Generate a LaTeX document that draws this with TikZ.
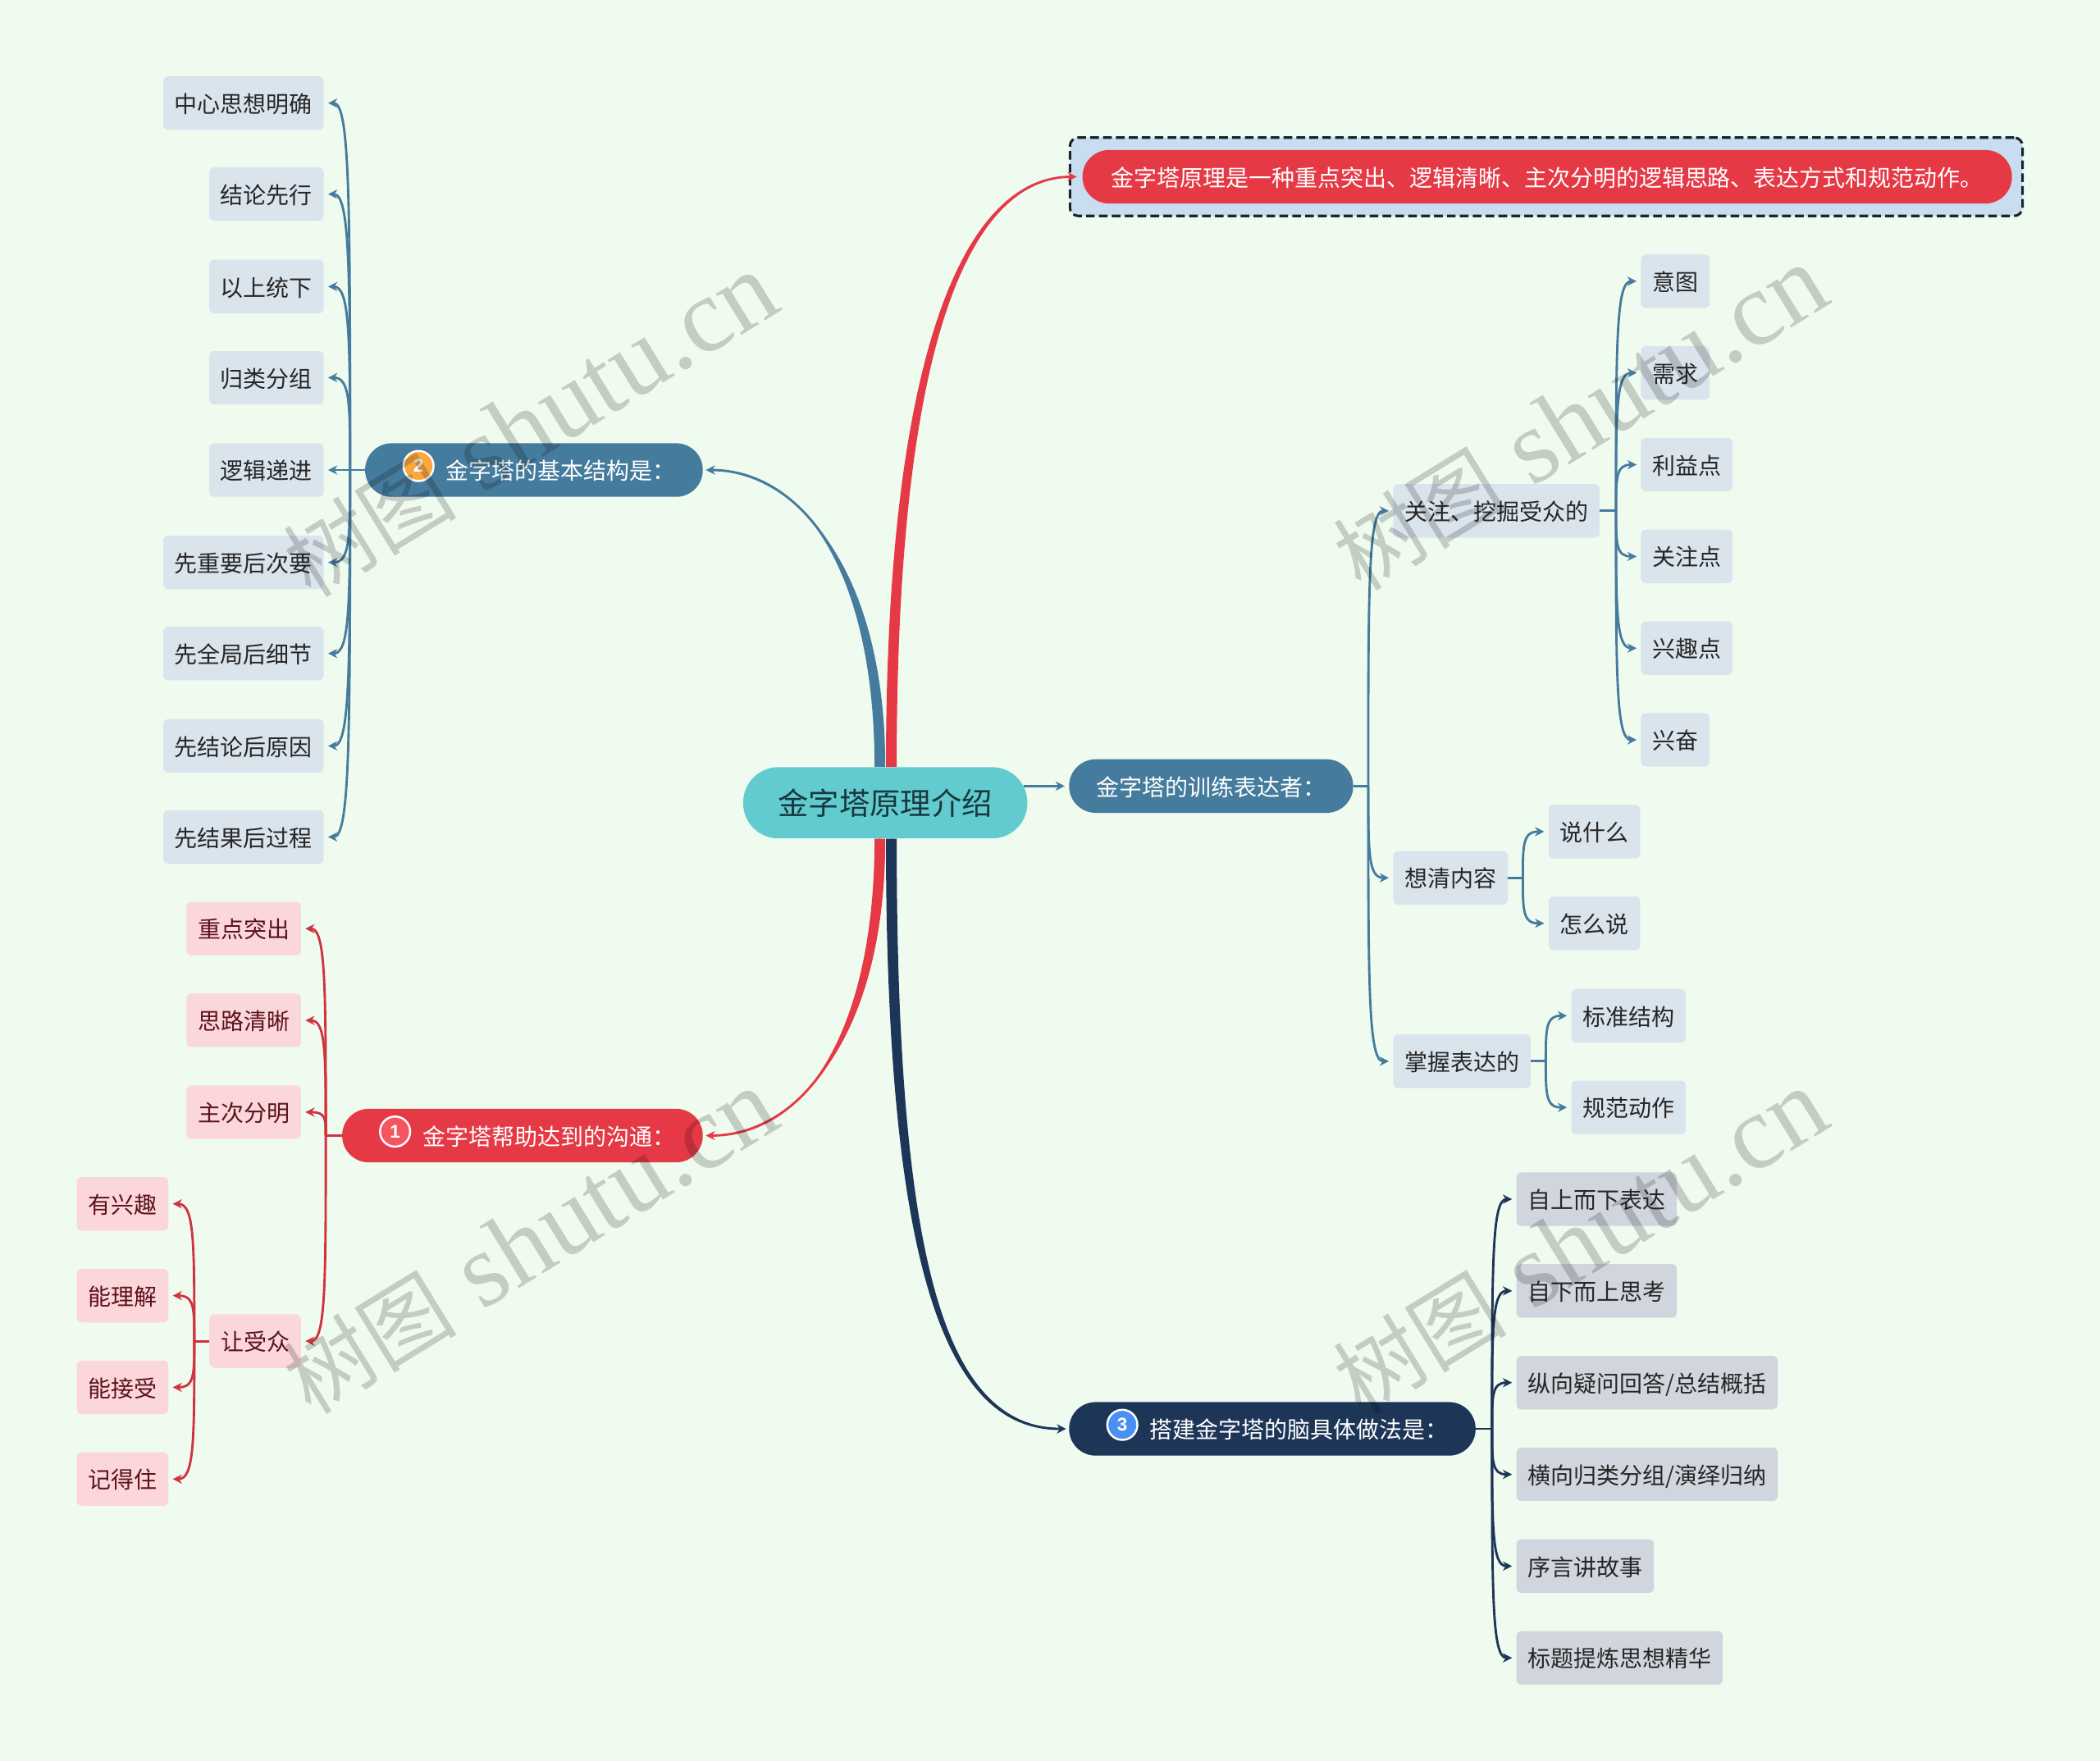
\documentclass[tikz,border=0pt]{standalone}
\usepackage{fontspec}
\setmainfont{Noto Sans CJK SC}
\newfontfamily\wmfont{Liberation Serif}
\newfontfamily\numfont{Liberation Sans}
\usepackage{xcolor}
\usetikzlibrary{arrows.meta, calc}
\definecolor{bgmint}{RGB}{240, 251, 240}
\definecolor{rootteal}{RGB}{98, 203, 208}
\definecolor{roottext}{RGB}{24, 56, 60}
\definecolor{conblue}{RGB}{69, 123, 157}
\definecolor{conred}{RGB}{230, 57, 70}
\definecolor{linkred}{RGB}{208, 50, 62}
\definecolor{connavy}{RGB}{29, 53, 87}
\definecolor{leafblue}{RGB}{218, 228, 236}
\definecolor{leafred}{RGB}{251, 215, 220}
\definecolor{leafnavy}{RGB}{209, 214, 222}
\definecolor{textred}{RGB}{92, 18, 24}
\definecolor{framefill}{RGB}{200, 221, 240}
\definecolor{framedark}{RGB}{26, 36, 48}
\definecolor{badgeorange}{RGB}{250, 168, 60}
\definecolor{badgered}{RGB}{245, 85, 95}
\definecolor{badgeblue}{RGB}{74, 144, 240}
\tikzset{
  pill/.style={rounded corners=15.9pt, minimum height=32pt, inner xsep=16.3pt, inner ysep=0pt,
    text=white, font=\fontsize{13.71}{16}\selectfont, text height=13pt, text depth=1.6pt},
  leaf/.style={rounded corners=3pt, minimum height=32pt, inner xsep=6.8pt, inner ysep=0pt,
    text=black!85, font=\fontsize{13.71}{16}\selectfont, text height=13pt, text depth=1.6pt},
  badge/.style={circle, draw=white, line width=1.2pt, minimum size=18pt, inner sep=0pt,
    text=white, font=\numfont\bfseries\fontsize{11}{12}\selectfont},
  wmark/.style={rotate=31.6, text=black, text opacity=0.18, inner sep=0pt,
    font=\wmfont\fontsize{63}{65}\selectfont},
  stub/.style={line width=1.4pt},
  link/.style={line width=1.4pt, ->, shorten >=2.4pt},
  hook/.style={to path={.. controls ($(\tikztostart)!0.72!(\tikztostart |- \tikztotarget)$) and (\tikztostart |- \tikztotarget) .. (\tikztotarget)}},
}

\begin{document}
\begin{tikzpicture}[x=0.8pt, y=-0.8pt, >={Stealth[length=5.5pt, width=5.5pt]}]

  \useasboundingbox (0, 0) rectangle (1568, 1315);
  \fill[bgmint] (0, 0) rectangle (1568, 1315);

  % Centre
  \node[rootteal, fill=rootteal, text=roottext, rounded corners=21pt, minimum height=42.6pt, inner xsep=20.8pt, inner ysep=0pt,
    font=\fontsize{18.3}{20}\selectfont] (root) at (661, 599.5) {金字塔原理介绍};

  % Main branches
  \node[draw=framedark, fill=framefill, dash pattern=on 5.2pt off 2.5pt, line width=1.5pt, rounded corners=5pt,
    minimum width=569pt, minimum height=46.8pt] (tipframe) at (1154.5, 132) {};
  \node[pill, fill=conred, anchor=west, minimum width=555.2pt] (tip) at (808, 132) {金字塔原理是一种重点突出、逻辑清晰、主次分明的逻辑思路、表达方式和规范动作。};
  \node[pill, fill=conblue, anchor=west] (train) at (798, 587) {金字塔的训练表达者：};
  \node[pill, fill=conblue, anchor=east] (basic) at (525, 351) {\hspace*{32pt}金字塔的基本结构是：};
  \node[pill, fill=conred, anchor=east] (reach) at (525, 848) {\hspace*{32pt}金字塔帮助达到的沟通：};
  \node[pill, fill=connavy, anchor=west] (build) at (798, 1067) {\hspace*{32pt}搭建金字塔的脑具体做法是：};

  \node[badge, fill=badgeorange] (badgeb) at (312.5, 348) {2};
  \node[badge, fill=badgered] (badger) at (295, 845) {1};
  \node[badge, fill=badgeblue] (badgen) at (838, 1064) {3};

  % Left blue leaves
  \node[leaf, fill=leafblue, anchor=east] (ba) at (242, 77) {中心思想明确};
  \node[leaf, fill=leafblue, anchor=east] (bb) at (242, 145) {结论先行};
  \node[leaf, fill=leafblue, anchor=east] (bc) at (242, 214) {以上统下};
  \node[leaf, fill=leafblue, anchor=east] (bd) at (242, 282) {归类分组};
  \node[leaf, fill=leafblue, anchor=east] (be) at (242, 351) {逻辑递进};
  \node[leaf, fill=leafblue, anchor=east] (bf) at (242, 420) {先重要后次要};
  \node[leaf, fill=leafblue, anchor=east] (bg) at (242, 488) {先全局后细节};
  \node[leaf, fill=leafblue, anchor=east] (bh) at (242, 557) {先结论后原因};
  \node[leaf, fill=leafblue, anchor=east] (bi) at (242, 625) {先结果后过程};

  % Left red leaves
  \node[leaf, fill=leafred, text=textred, anchor=east] (ra) at (225, 693.5) {重点突出};
  \node[leaf, fill=leafred, text=textred, anchor=east] (rb) at (225, 762) {思路清晰};
  \node[leaf, fill=leafred, text=textred, anchor=east] (rc) at (225, 830.5) {主次分明};
  \node[leaf, fill=leafred, text=textred, anchor=east] (rd) at (225, 1001.5) {让受众};
  \node[leaf, fill=leafred, text=textred, anchor=east] (rda) at (126, 899) {有兴趣};
  \node[leaf, fill=leafred, text=textred, anchor=east] (rdb) at (126, 967.5) {能理解};
  \node[leaf, fill=leafred, text=textred, anchor=east] (rdc) at (126, 1036) {能接受};
  \node[leaf, fill=leafred, text=textred, anchor=east] (rdd) at (126, 1104.5) {记得住};

  % Right blue leaves
  \node[leaf, fill=leafblue, anchor=west] (ta) at (1040, 381.5) {关注、挖掘受众的};
  \node[leaf, fill=leafblue, anchor=west] (taa) at (1225, 210) {意图};
  \node[leaf, fill=leafblue, anchor=west] (tab) at (1225, 278.5) {需求};
  \node[leaf, fill=leafblue, anchor=west] (tac) at (1225, 347) {利益点};
  \node[leaf, fill=leafblue, anchor=west] (tad) at (1225, 415.5) {关注点};
  \node[leaf, fill=leafblue, anchor=west] (tae) at (1225, 484) {兴趣点};
  \node[leaf, fill=leafblue, anchor=west] (taf) at (1225, 552.5) {兴奋};
  \node[leaf, fill=leafblue, anchor=west] (tb) at (1040, 655.5) {想清内容};
  \node[leaf, fill=leafblue, anchor=west] (tba) at (1156, 621) {说什么};
  \node[leaf, fill=leafblue, anchor=west] (tbb) at (1156, 689.5) {怎么说};
  \node[leaf, fill=leafblue, anchor=west] (tc) at (1040, 792.5) {掌握表达的};
  \node[leaf, fill=leafblue, anchor=west] (tca) at (1173, 758.5) {标准结构};
  \node[leaf, fill=leafblue, anchor=west] (tcb) at (1173, 827) {规范动作};

  % Right navy leaves
  \node[leaf, fill=leafnavy, anchor=west] (na) at (1132, 895.5) {自上而下表达};
  \node[leaf, fill=leafnavy, anchor=west] (nb) at (1132, 964) {自下而上思考};
  \node[leaf, fill=leafnavy, anchor=west] (nc) at (1132, 1032.5) {纵向疑问回答/总结概括};
  \node[leaf, fill=leafnavy, anchor=west] (nd) at (1132, 1101) {横向归类分组/演绎归纳};
  \node[leaf, fill=leafnavy, anchor=west] (ne) at (1132, 1169.5) {序言讲故事};
  \node[leaf, fill=leafnavy, anchor=west] (nf) at (1132, 1238) {标题提炼思想精华};

  % Thick curves out of the centre
  \coordinate (upb) at ($(root.north)+(-4,0)$);
  \coordinate (upr) at ($(root.north)+(4.5,0)$);
  \coordinate (dnr) at ($(root.south)+(-4,0)$);
  \coordinate (dnn) at ($(root.south)+(4.5,0)$);

  \fill[conblue] ($(upb)+(-4,0)$) .. controls (653, 430) and (600, 348.5) .. ($(basic.east)+(5,0)$)
    .. controls (600, 353.5) and (661, 430) .. ($(upb)+(4,0)$) -- cycle;
  \draw[link, conblue, shorten >=0pt] (upb) .. controls (657, 430) and (600, 351) .. ($(basic.east)+(2,0)$);

  \fill[conred] ($(upr)+(-4,0)$) .. controls (661.5, 250) and (725, 129.5) .. ($(tip.west)+(-8,0)$)
    .. controls (725, 134.5) and (669.5, 250) .. ($(upr)+(4,0)$) -- cycle;
  \draw[link, conred, shorten >=0pt] (upr) .. controls (665.5, 250) and (725, 132) .. ($(tip.west)+(-4,0)$);

  \fill[conred] ($(dnr)+(-4,0)$) .. controls (653, 770) and (600, 850.5) .. ($(reach.east)+(5,0)$)
    .. controls (600, 845.5) and (661, 770) .. ($(dnr)+(4,0)$) -- cycle;
  \draw[link, conred, shorten >=0pt] (dnr) .. controls (657, 770) and (600, 848) .. ($(reach.east)+(2,0)$);

  \fill[connavy] ($(dnn)+(-4,0)$) .. controls (661.5, 960) and (710, 1069.5) .. ($(build.west)+(-5,0)$)
    .. controls (710, 1064.5) and (669.5, 960) .. ($(dnn)+(4,0)$) -- cycle;
  \draw[link, connavy, shorten >=0pt] (dnn) .. controls (665.5, 960) and (710, 1067) .. ($(build.west)+(-2,0)$);

  \draw[link, conblue] ($(root.east)+(-3,-12.5)$) -- (train.west |- 0, 587);

  % Left blue links
  \coordinate (bs) at ($(basic.west)+(-11,0)$);
  \draw[stub, conblue] (basic.west) -- (bs);
  \draw[link, conblue, hook] (bs) to (ba.east);
  \draw[link, conblue, hook] (bs) to (bb.east);
  \draw[link, conblue, hook] (bs) to (bc.east);
  \draw[link, conblue, hook] (bs) to (bd.east);
  \draw[link, conblue] (bs) -- (be.east);
  \draw[link, conblue, hook] (bs) to (bf.east);
  \draw[link, conblue, hook] (bs) to (bg.east);
  \draw[link, conblue, hook] (bs) to (bh.east);
  \draw[link, conblue, hook] (bs) to (bi.east);

  % Left red links
  \coordinate (rs) at ($(reach.west)+(-12,0)$);
  \draw[stub, linkred] (reach.west) -- (rs);
  \draw[link, linkred, hook] (rs) to (ra.east);
  \draw[link, linkred, hook] (rs) to (rb.east);
  \draw[link, linkred, hook] (rs) to (rc.east);
  \draw[link, linkred, hook] (rs) to (rd.east);
  \coordinate (rds) at ($(rd.west)+(-11,0)$);
  \draw[stub, linkred] (rd.west) -- (rds);
  \draw[link, linkred, hook] (rds) to (rda.east);
  \draw[link, linkred, hook] (rds) to (rdb.east);
  \draw[link, linkred, hook] (rds) to (rdc.east);
  \draw[link, linkred, hook] (rds) to (rdd.east);

  % Right blue links
  \coordinate (ts) at ($(train.east)+(11,0)$);
  \draw[stub, conblue] (train.east) -- (ts);
  \draw[link, conblue, hook] (ts) to (ta.west);
  \draw[link, conblue, hook] (ts) to (tb.west);
  \draw[link, conblue, hook] (ts) to (tc.west);
  \coordinate (tas) at ($(ta.east)+(12,0)$);
  \draw[stub, conblue] (ta.east) -- (tas);
  \draw[link, conblue, hook] (tas) to (taa.west);
  \draw[link, conblue, hook] (tas) to (tab.west);
  \draw[link, conblue, hook] (tas) to (tac.west);
  \draw[link, conblue, hook] (tas) to (tad.west);
  \draw[link, conblue, hook] (tas) to (tae.west);
  \draw[link, conblue, hook] (tas) to (taf.west);
  \coordinate (tbs) at ($(tb.east)+(11,0)$);
  \draw[stub, conblue] (tb.east) -- (tbs);
  \draw[link, conblue, hook] (tbs) to (tba.west);
  \draw[link, conblue, hook] (tbs) to (tbb.west);
  \coordinate (tcs) at ($(tc.east)+(11,0)$);
  \draw[stub, conblue] (tc.east) -- (tcs);
  \draw[link, conblue, hook] (tcs) to (tca.west);
  \draw[link, conblue, hook] (tcs) to (tcb.west);

  % Right navy links
  \coordinate (ns) at ($(build.east)+(12,0)$);
  \draw[stub, connavy] (build.east) -- (ns);
  \draw[link, connavy, hook] (ns) to (na.west);
  \draw[link, connavy, hook] (ns) to (nb.west);
  \draw[link, connavy, hook] (ns) to (nc.west);
  \draw[link, connavy, hook] (ns) to (nd.west);
  \draw[link, connavy, hook] (ns) to (ne.west);
  \draw[link, connavy, hook] (ns) to (nf.west);

  % Watermark
  \node[wmark] (wma) at (396, 318) {{\rmfamily\fontsize{52}{54}\selectfont 树图} shutu.cn};
  \node[wmark] (wmb) at (396, 928) {{\rmfamily\fontsize{52}{54}\selectfont 树图} shutu.cn};
  \node[wmark] (wmc) at (1180, 313) {{\rmfamily\fontsize{52}{54}\selectfont 树图} shutu.cn};
  \node[wmark] (wmd) at (1180, 928) {{\rmfamily\fontsize{52}{54}\selectfont 树图} shutu.cn};

\end{tikzpicture}
\end{document}
